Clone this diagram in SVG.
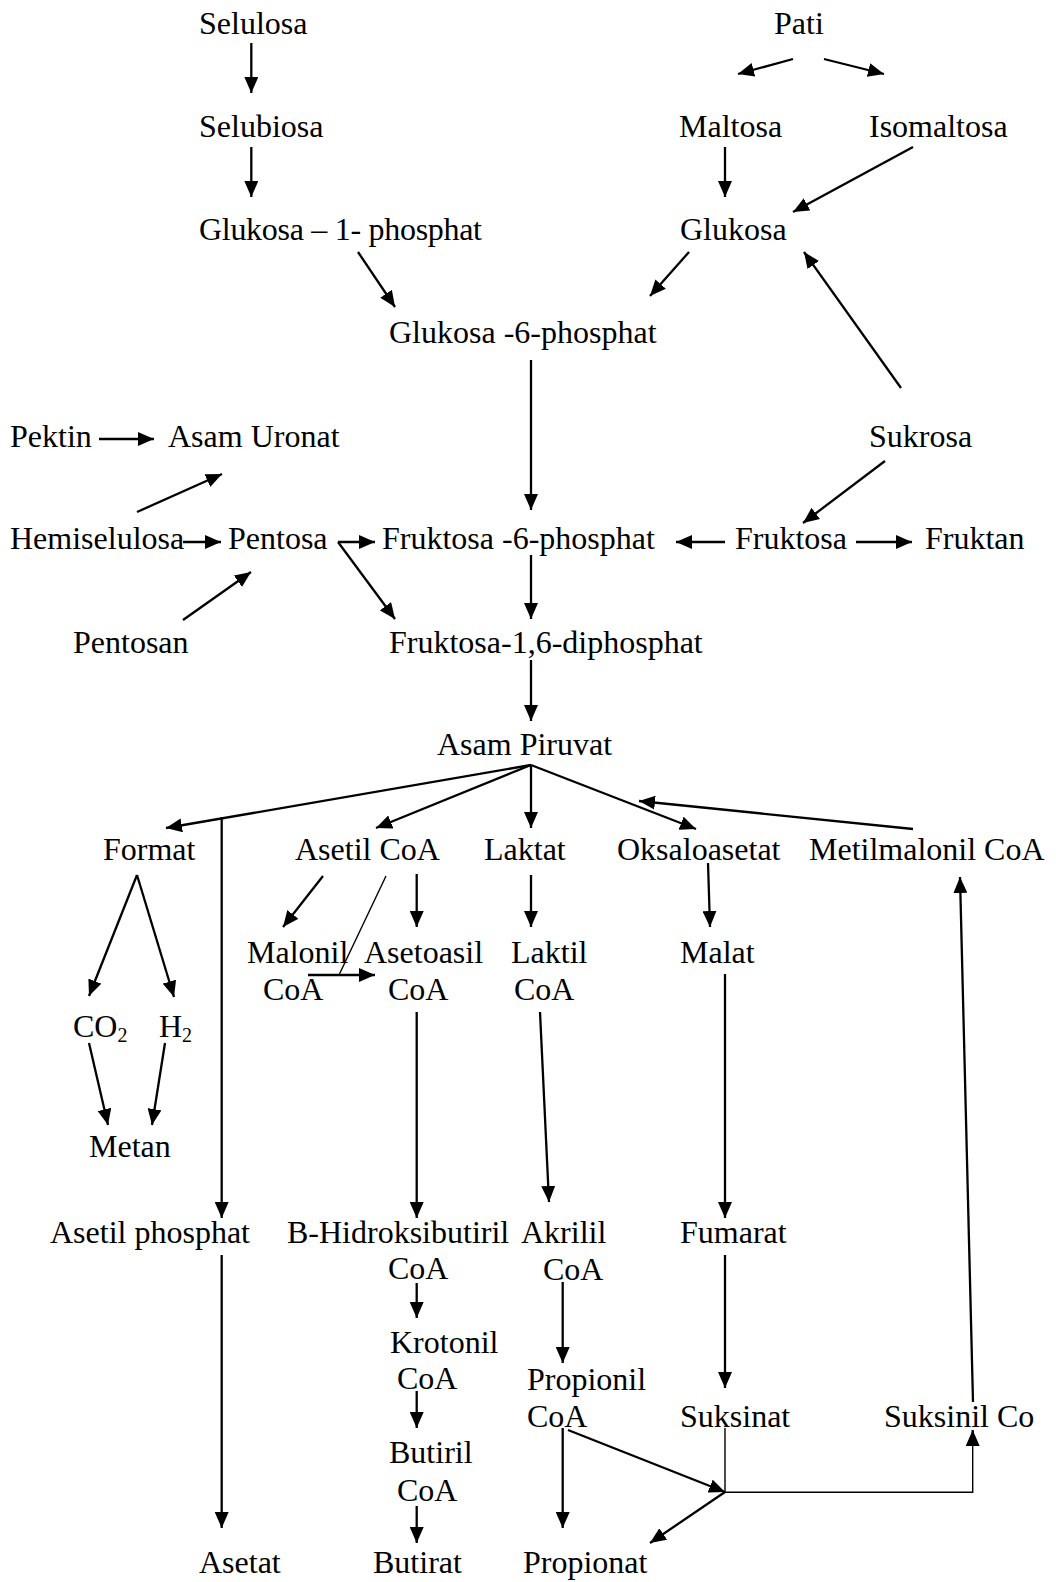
<svg xmlns="http://www.w3.org/2000/svg" width="1056" height="1582" viewBox="0 0 1056 1582">
<style>
text{font-family:"Liberation Serif","Times New Roman",serif;font-size:32px;fill:#000}
.a{stroke:#000;stroke-width:2.3;fill:none;marker-end:url(#ah)}
.l{stroke:#000;stroke-width:2.3;fill:none}
.t{stroke:#000;stroke-width:1.4;fill:none}
</style>
<defs>
<marker id="ah" viewBox="0 0 16 14" refX="16" refY="7" markerWidth="16" markerHeight="14" markerUnits="userSpaceOnUse" orient="auto">
<path d="M0,0 L16,7 L0,14 z" fill="#000"/>
</marker>
</defs>
<rect width="1056" height="1582" fill="#fff"/>
<g id="nodes">
<g id="n-selulosa"><text x="199" y="34">Selulosa</text></g>
<g id="n-selubiosa"><text x="199" y="137">Selubiosa</text></g>
<g id="n-g1p"><text x="199" y="240" textLength="283" lengthAdjust="spacing">Glukosa – 1- phosphat</text></g>
<g id="n-pati"><text x="774" y="34">Pati</text></g>
<g id="n-maltosa"><text x="679" y="137">Maltosa</text></g>
<g id="n-isomaltosa"><text x="869" y="137">Isomaltosa</text></g>
<g id="n-glukosa"><text x="680" y="240">Glukosa</text></g>
<g id="n-g6p"><text x="389" y="343">Glukosa -6-phosphat</text></g>
<g id="n-pektin"><text x="10" y="447">Pektin</text></g>
<g id="n-asamuronat"><text x="168" y="447">Asam Uronat</text></g>
<g id="n-sukrosa"><text x="869" y="447">Sukrosa</text></g>
<g id="n-hemiselulosa"><text x="10" y="549">Hemiselulosa</text></g>
<g id="n-pentosa"><text x="228" y="549">Pentosa</text></g>
<g id="n-f6p"><text x="382" y="549">Fruktosa -6-phosphat</text></g>
<g id="n-fruktosa"><text x="735" y="549">Fruktosa</text></g>
<g id="n-fruktan"><text x="925" y="549">Fruktan</text></g>
<g id="n-pentosan"><text x="73" y="653">Pentosan</text></g>
<g id="n-f16dp"><text x="389" y="653">Fruktosa-1,6-diphosphat</text></g>
<g id="n-piruvat"><text x="437" y="755">Asam Piruvat</text></g>
<g id="n-format"><text x="103" y="860">Format</text></g>
<g id="n-asetilcoa"><text x="295" y="860">Asetil CoA</text></g>
<g id="n-laktat"><text x="484" y="860">Laktat</text></g>
<g id="n-oksaloasetat"><text x="617" y="860">Oksaloasetat</text></g>
<g id="n-metilmalonil"><text x="809" y="860">Metilmalonil CoA</text></g>
<g id="n-malonil"><text x="247" y="963">Malonil</text><text x="263" y="1000">CoA</text></g>
<g id="n-asetoasil"><text x="364" y="963">Asetoasil</text><text x="388" y="1000">CoA</text></g>
<g id="n-laktil"><text x="511" y="963">Laktil</text><text x="514" y="1000">CoA</text></g>
<g id="n-malat"><text x="680" y="963">Malat</text></g>
<g id="n-co2"><text x="73" y="1037">CO<tspan font-size="20" dy="5">2</tspan></text></g>
<g id="n-h2"><text x="159" y="1037">H<tspan font-size="20" dy="5">2</tspan></text></g>
<g id="n-metan"><text x="89" y="1157">Metan</text></g>
<g id="n-asetilphosphat"><text x="50" y="1243">Asetil phosphat</text></g>
<g id="n-hidroksibutiril"><text x="287" y="1243">B-Hidroksibutiril</text><text x="388" y="1279">CoA</text></g>
<g id="n-akrilil"><text x="521" y="1243">Akrilil</text><text x="543" y="1280">CoA</text></g>
<g id="n-fumarat"><text x="680" y="1243">Fumarat</text></g>
<g id="n-krotonil"><text x="390" y="1353">Krotonil</text><text x="397" y="1389">CoA</text></g>
<g id="n-propionil"><text x="527" y="1390">Propionil</text><text x="527" y="1427">CoA</text></g>
<g id="n-suksinat"><text x="680" y="1427">Suksinat</text></g>
<g id="n-suksinil"><text x="884" y="1427">Suksinil Co</text></g>
<g id="n-butiril"><text x="389" y="1463">Butiril</text><text x="397" y="1501">CoA</text></g>
<g id="n-asetat"><text x="199" y="1573">Asetat</text></g>
<g id="n-butirat"><text x="373" y="1573">Butirat</text></g>
<g id="n-propionat"><text x="523" y="1573">Propionat</text></g>
</g>
<g id="connectors">
<line class="a" x1="251.3" y1="43" x2="251.3" y2="93"/>
<line class="a" x1="251.3" y1="147" x2="251.3" y2="197"/>
<line class="a" x1="358" y1="252" x2="395" y2="307"/>
<line class="a" x1="793" y1="59" x2="738" y2="74"/>
<line class="a" x1="824" y1="59" x2="884" y2="74"/>
<line class="a" x1="725" y1="147" x2="725" y2="197"/>
<line class="a" x1="913" y1="147" x2="793" y2="212"/>
<line class="a" x1="689" y1="252" x2="650" y2="296"/>
<line class="a" x1="901" y1="388" x2="804" y2="252"/>
<line class="a" x1="531" y1="360" x2="531" y2="510"/>
<line class="a" x1="99" y1="439" x2="154" y2="439"/>
<line class="a" x1="137" y1="512" x2="222" y2="474"/>
<line class="a" x1="183" y1="542" x2="221" y2="542"/>
<line class="a" x1="183" y1="620" x2="251" y2="572"/>
<line class="a" x1="338" y1="542" x2="375" y2="542"/>
<line class="a" x1="338" y1="542" x2="395" y2="619"/>
<line class="a" x1="885" y1="461" x2="803" y2="523"/>
<line class="a" x1="725" y1="542" x2="676" y2="542"/>
<line class="a" x1="856" y1="542" x2="912" y2="542"/>
<line class="a" x1="531" y1="555" x2="531" y2="619"/>
<line class="a" x1="531" y1="660" x2="531" y2="721"/>
<line class="a" x1="531" y1="765" x2="166" y2="828"/>
<line class="a" x1="531" y1="765" x2="376" y2="828"/>
<line class="a" x1="531" y1="765" x2="531" y2="828"/>
<line class="a" x1="531" y1="765" x2="696" y2="829"/>
<line class="a" x1="913" y1="829" x2="639" y2="801"/>
<line class="a" x1="221.7" y1="817" x2="221.7" y2="1218"/>
<line class="a" x1="137" y1="875" x2="89" y2="996"/>
<line class="a" x1="137" y1="875" x2="174" y2="997"/>
<line class="a" x1="89" y1="1043" x2="108" y2="1125"/>
<line class="a" x1="165" y1="1043" x2="152" y2="1125"/>
<line class="a" x1="323" y1="876" x2="283" y2="927"/>
<line class="t" x1="386" y1="876" x2="339" y2="975"/>
<line class="a" x1="308" y1="975" x2="375" y2="975"/>
<line class="a" x1="416.7" y1="874" x2="416.7" y2="927"/>
<line class="a" x1="531" y1="875" x2="531" y2="927"/>
<line class="a" x1="708" y1="863" x2="710" y2="927"/>
<line class="a" x1="416.7" y1="1012" x2="416.7" y2="1218"/>
<line class="a" x1="540" y1="1012" x2="549" y2="1202"/>
<line class="a" x1="725" y1="974" x2="725" y2="1218"/>
<line class="a" x1="973" y1="1402" x2="960" y2="877"/>
<line class="a" x1="221.7" y1="1255" x2="221.7" y2="1528"/>
<line class="a" x1="416.7" y1="1283" x2="416.7" y2="1318"/>
<line class="a" x1="416.7" y1="1391" x2="416.7" y2="1428"/>
<line class="a" x1="416.7" y1="1506" x2="416.7" y2="1543"/>
<line class="a" x1="562.7" y1="1282" x2="562.7" y2="1363"/>
<line class="a" x1="725" y1="1255" x2="725" y2="1388"/>
<polyline class="t" points="725,1428 725,1492.3 972.7,1492.3 972.7,1445"/>
<line class="a" x1="972.7" y1="1445" x2="972.7" y2="1430"/>
<line class="a" x1="568" y1="1430" x2="725" y2="1492"/>
<line class="a" x1="725" y1="1492" x2="650" y2="1543"/>
<line class="a" x1="562.7" y1="1428" x2="562.7" y2="1528"/>
</g>
</svg>
